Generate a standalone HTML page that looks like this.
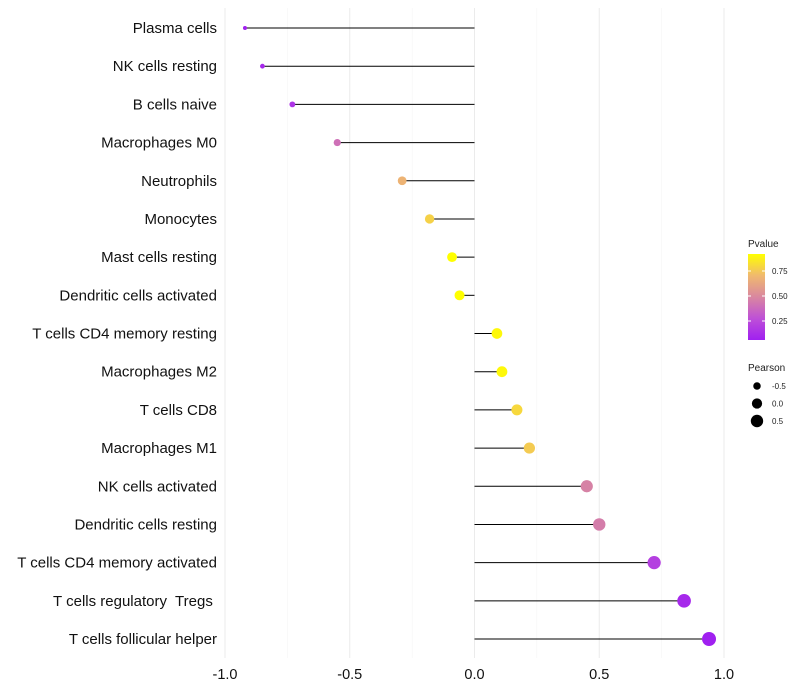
<!DOCTYPE html>
<html><head><meta charset="utf-8"><style>
body{margin:0;background:#fff;font-family:"Liberation Sans",sans-serif}
svg{display:block}
</style></head><body>
<svg id="c" width="800" height="700"></svg>
<script>
const cats=["Plasma cells","NK cells resting","B cells naive","Macrophages M0","Neutrophils","Monocytes","Mast cells resting","Dendritic cells activated","T cells CD4 memory resting","Macrophages M2","T cells CD8","Macrophages M1","NK cells activated","Dendritic cells resting","T cells CD4 memory activated","T cells regulatory  Tregs ","T cells follicular helper"];
const pearson=[-0.92,-0.85,-0.73,-0.55,-0.29,-0.18,-0.09,-0.06,0.09,0.11,0.17,0.22,0.45,0.50,0.72,0.84,0.94];
const pvalue=[0.07,0.1,0.15,0.4,0.68,0.78,0.92,0.93,0.9,0.9,0.8,0.76,0.47,0.45,0.2,0.1,0.06];
const xTicks=[-1,-0.5,0,0.5,1];
const xTickLabels=["-1.0","-0.5","0.0","0.5","1.0"];
const pTicks=[0.25,0.5,0.75];
const sizeTicks=[-0.5,0,0.5];

const NS="http://www.w3.org/2000/svg",svg=document.getElementById('c');
function el(t,a,p){const e=document.createElementNS(NS,t);for(const k in a)e.setAttribute(k,a[k]);(p||svg).appendChild(e);return e;}
const x=v=>474.5+v*249.5;
const y=i=>28+i*(611/16);
const pMin=0.06,pMax=0.92;
const stops=[[160,32,240],[190,80,215],[217,135,160],[240,185,110],[255,255,0]];
function col(p){let t=Math.max(0,Math.min(1,(p-pMin)/(pMax-pMin)))*4;
 const i=Math.min(3,Math.floor(t)),f=t-i,a=stops[i],b=stops[i+1];
 return `rgb(${a.map((v,k)=>Math.round(v+(b[k]-v)*f))})`;}
const sMin=Math.min(...pearson),sMax=Math.max(...pearson);
function rad(v){const t=(v-sMin)/(sMax-sMin);return Math.sqrt(4+t*(49-4));}

// grid
for(let v=-1;v<=1.001;v+=0.25){const major=Math.abs((v*2)%1)<1e-6;
 const g=el('line',{x1:x(v),x2:x(v),y1:8,y2:658,stroke:major?'#ebebeb':'#f5f5f5','stroke-width':major?1:0.6});
 }
// ticks
xTicks.forEach((v,i)=>{const t=el('text',{x:x(v),y:679,'text-anchor':'middle','font-size':14.5,fill:'#111'});t.textContent=xTickLabels[i];
 });
cats.forEach((c,i)=>{const t=el('text',{x:217,y:y(i)+5,'text-anchor':'end','font-size':15,fill:'#111','xml:space':'preserve',style:'white-space:pre'});t.textContent=c;
 });
// lollipops
cats.forEach((c,i)=>{
 const l=el('line',{x1:x(0),x2:x(pearson[i]),y1:y(i),y2:y(i),stroke:'#000','stroke-width':1});
 
 const d=el('circle',{cx:x(pearson[i]),cy:y(i),r:rad(pearson[i]),fill:col(pvalue[i])});
 
});
// legend pvalue
let t=el('text',{x:748,y:247,'font-size':10,fill:'#222'});t.textContent='Pvalue';

const defs=el('defs',{});const lg=el('linearGradient',{id:'pg',x1:0,y1:1,x2:0,y2:0},defs);
[0,0.25,0.5,0.75,1].forEach(s=>el('stop',{offset:s,'stop-color':col(pMin+s*(pMax-pMin))},lg));
const py=p=>340-(p-pMin)/(pMax-pMin)*86;
const bar=el('rect',{x:748,y:254,width:17,height:86,fill:'url(#pg)'});

pTicks.forEach(p=>{el('line',{x1:748,x2:751,y1:py(p),y2:py(p),stroke:'#fff'});el('line',{x1:762,x2:765,y1:py(p),y2:py(p),stroke:'#fff'});
 const tt=el('text',{x:772,y:py(p)+3,'font-size':8,fill:'#222'});tt.textContent=p.toFixed(2);
 });
// legend size
t=el('text',{x:748,y:371,'font-size':10,fill:'#222'});t.textContent='Pearson';

sizeTicks.forEach((v,i)=>{const cy=386+i*17.5;
 const c=el('circle',{cx:757,cy:cy,r:rad(v),fill:'#000'});
 const tt=el('text',{x:772,y:cy+3,'font-size':8,fill:'#222'});tt.textContent=v.toFixed(1);
 });
</script>
</body></html>
